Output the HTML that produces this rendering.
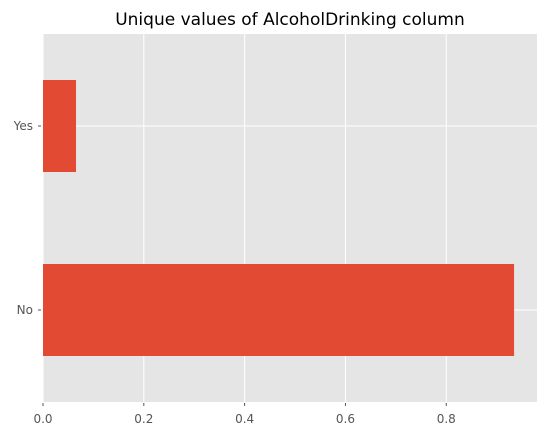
<!DOCTYPE html>
<html><head><meta charset="utf-8"><style>
body{margin:0;background:#fff;}
svg{display:block;font-family:"DejaVu Sans","Liberation Sans",sans-serif;}
</style></head><body>
<svg id="chart" width="547" height="436">
<text x="290" y="25" text-anchor="middle" font-size="17" fill="#000">Unique values of AlcoholDrinking column</text>
<rect x="43" y="34" width="494" height="368" fill="#E5E5E5"/>
<g id="grid"></g><g id="bars"></g><g id="axes"></g>
</svg>
<script>
const categories = ["No", "Yes"];
const values = [0.9345, 0.0655];
const xTicks = [0.0, 0.2, 0.4, 0.6, 0.8];
const xTickLabels = ["0.0", "0.2", "0.4", "0.6", "0.8"];

const L=43,R=537,T=34,B=402, xmax=0.98;
const sx=v=>L+(v/xmax)*(R-L);
const sy=i=>B-((i+0.5)/2)*(B-T);
const ns="http://www.w3.org/2000/svg";
const mk=(t,a,p)=>{const e=document.createElementNS(ns,t);for(const k in a)e.setAttribute(k,a[k]);p.appendChild(e);return e;};
const grid=document.getElementById('grid'),bars=document.getElementById('bars'),axes=document.getElementById('axes');
xTicks.forEach((v,i)=>{
  const x=sx(v);
  const g=mk('line',{x1:x,x2:x,y1:T,y2:B,stroke:'#fff','stroke-width':1},grid);
  
  
  const tk=mk('line',{x1:x,x2:x,y1:B+1,y2:B+4,stroke:'#555','stroke-width':1},axes);
  
  
  const t=mk('text',{x:x,y:B+21,'text-anchor':'middle','font-size':12,fill:'#555'},axes);
  t.textContent=xTickLabels[i];
  
  
});
categories.forEach((c,i)=>{
  const y=sy(i);
  const g=mk('line',{x1:L,x2:R,y1:y,y2:y,stroke:'#fff','stroke-width':1},grid);
  
  
  const h=(B-T)/4;
  const b=mk('rect',{x:L,y:y-h/2,width:sx(values[i])-L,height:h,fill:'#E24A33'},bars);
  
  
  const tk=mk('line',{x1:L-5,x2:L-2,y1:y,y2:y,stroke:'#555','stroke-width':1},axes);
  
  
  const t=mk('text',{x:L-10,y:y+4,'text-anchor':'end','font-size':12,fill:'#555'},axes);
  t.textContent=c;
  
  
});
</script>
</body></html>
